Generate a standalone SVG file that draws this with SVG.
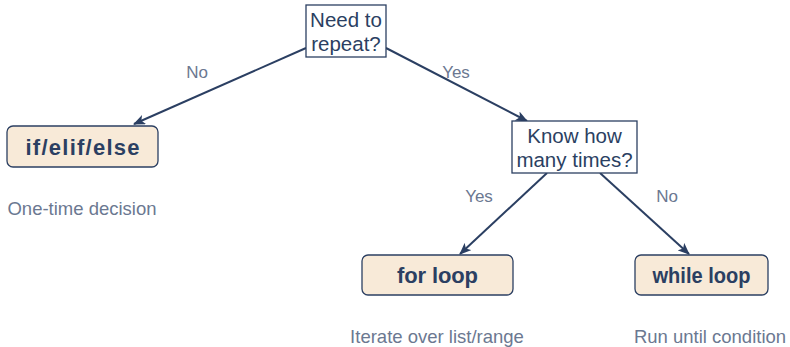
<svg xmlns="http://www.w3.org/2000/svg" width="790" height="347" viewBox="0 0 790 347">
<defs>
<marker id="arr" viewBox="0 0 12 10" refX="11" refY="5" markerWidth="12" markerHeight="10" markerUnits="userSpaceOnUse" orient="auto">
<path d="M0,0 L12,5 L0,10 L3,5 Z" fill="#2b3f62"/>
</marker>
</defs>
<style>
.dec{fill:#ffffff;stroke:#2b3f62;stroke-width:1.3}
.act{fill:#f8ead8;stroke:#2b3f62;stroke-width:1.3}
.t{font-family:"Liberation Sans",Arial,sans-serif;fill:#2b3f62;text-anchor:middle}
.dt{font-size:20.5px}
.bt{font-size:22px;font-weight:bold}
.note{font-family:"Liberation Sans",Arial,sans-serif;fill:#6b7891;font-size:18.5px;text-anchor:middle}
.lbl{font-family:"Liberation Sans",Arial,sans-serif;fill:#6b7891;font-size:17px;text-anchor:middle}
.c{stroke:#2b3f62;stroke-width:2;fill:none;marker-end:url(#arr)}
</style>
<g id="connectors">
<line class="c" x1="306" y1="48" x2="134" y2="124"/>
<line class="c" x1="386" y1="48" x2="527" y2="121"/>
<line class="c" x1="547" y1="173" x2="460" y2="254"/>
<line class="c" x1="600" y1="173" x2="689" y2="254"/>
<text class="lbl" x="197" y="78">No</text>
<text class="lbl" x="456" y="78">Yes</text>
<text class="lbl" x="479" y="202">Yes</text>
<text class="lbl" x="667" y="202">No</text>
</g>
<g id="need">
<rect class="dec" x="306" y="5" width="80" height="52"/>
<text class="t dt" x="346" y="27">Need to</text>
<text class="t dt" x="346" y="51">repeat?</text>
</g>
<g id="ifelse">
<rect class="act" x="7" y="126" width="151" height="41" rx="6"/>
<text class="t bt" x="82.5" y="154.5" textLength="114" lengthAdjust="spacing">if/elif/else</text>
<text class="note" x="82" y="215">One-time decision</text>
</g>
<g id="know">
<rect class="dec" x="512" y="121" width="125" height="52"/>
<text class="t dt" x="574.5" y="143">Know how</text>
<text class="t dt" x="574.5" y="167">many times?</text>
</g>
<g id="for">
<rect class="act" x="362" y="255" width="151" height="40" rx="6"/>
<text class="t bt" x="437.5" y="282.5" textLength="81" lengthAdjust="spacing">for loop</text>
<text class="note" x="437" y="343">Iterate over list/range</text>
</g>
<g id="while">
<rect class="act" x="635" y="255" width="133" height="40" rx="6"/>
<text class="t bt" x="701.5" y="282.5" textLength="98" lengthAdjust="spacingAndGlyphs">while loop</text>
<text class="note" x="710" y="343">Run until condition</text>
</g>
</svg>
